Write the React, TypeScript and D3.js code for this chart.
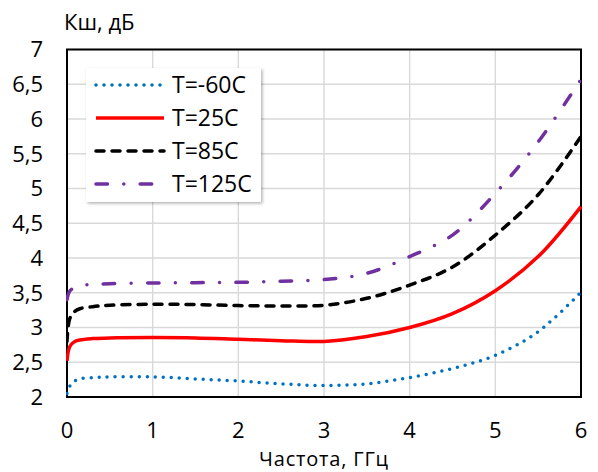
import React from "react";
import * as d3 from "d3";

const freq = [0, 0.03, 0.08, 0.15, 0.3, 0.5, 1, 1.5, 2, 2.5, 3, 3.5, 4, 4.5, 5, 5.5, 6];
const tMinus60 = [2.05, 2.15, 2.22, 2.26, 2.28, 2.29, 2.29, 2.26, 2.23, 2.19, 2.165, 2.19, 2.28, 2.41, 2.6, 2.94, 3.51];
const t25 = [2.52, 2.72, 2.79, 2.82, 2.84, 2.85, 2.855, 2.85, 2.83, 2.81, 2.8, 2.87, 3.0, 3.2, 3.53, 4.02, 4.74];
const t85 = [2.8, 3.12, 3.22, 3.27, 3.3, 3.32, 3.335, 3.33, 3.315, 3.31, 3.32, 3.42, 3.61, 3.87, 4.33, 4.91, 5.75];
const t125 = [3.4, 3.52, 3.57, 3.6, 3.62, 3.63, 3.64, 3.645, 3.65, 3.665, 3.69, 3.78, 4.02, 4.33, 4.93, 5.67, 6.57];

const seriesNames = ["T=-60C", "T=25C", "T=85C", "T=125C"];
const seriesValues = [tMinus60, t25, t85, t125];
const seriesColors = ["#0070C0", "#FF0000", "#000000", "#7030A0"];
const seriesDash = ["0 8", "none", "8 8", "11.5 16.3 0 16.4"];

const xTicks = [0, 1, 2, 3, 4, 5, 6];
const yTicks = [2, 2.5, 3, 3.5, 4, 4.5, 5, 5.5, 6, 6.5, 7];
const yTitle = "Кш, дБ";
const xTitle = "Частота, ГГц";

const W = 598;
const H = 472;
const FONT = "'Open Sans', 'Noto Sans', sans-serif";

export default function App() {
  const x = d3.scaleLinear().domain([0, 6]).range([67, 581]);
  const y = d3.scaleLinear().domain([2, 7]).range([397, 49.5]);
  const fmt = (v: number) => String(v).replace(".", ",");

  const line = (vals: number[]) =>
    d3
      .line<number>()
      .x((_, i) => x(freq[i]))
      .y((v) => y(v))
      .curve(d3.curveCatmullRom.alpha(0.5))(vals) || "";

  const legX = 86, legY = 68, legW = 175, legH = 134;
  const rowY = [85, 118, 151, 184];

  return (
    <svg
      width={W}
      height={H}
      style={{ position: "fixed", left: 0, top: 0, background: "#fff" }}
      fontFamily={FONT}
    >
      <defs>
        <filter id="shadow" x="-10%" y="-10%" width="130%" height="130%">
          <feDropShadow dx="1.5" dy="1.5" stdDeviation="1.5" floodColor="#000" floodOpacity="0.3" />
        </filter>
        <clipPath id="plot">
          <rect x={66} y={48} width={517} height={350} />
        </clipPath>
      </defs>
      <rect x={0} y={0} width={W} height={H} fill="#fff" />
      {xTicks.map((t) => (
        <line key={"gx" + t} x1={x(t)} x2={x(t)} y1={y(2)} y2={y(7)} stroke="#d9d9d9" strokeWidth={1.4} />
      ))}
      {yTicks.map((t) => (
        <line key={"gy" + t} x1={x(0)} x2={x(6)} y1={y(t)} y2={y(t)} stroke="#d9d9d9" strokeWidth={1.4} />
      ))}
      <rect x={x(0)} y={y(7)} width={x(6) - x(0)} height={y(2) - y(7)} fill="none" stroke="#000" strokeWidth={2} />
      <g clipPath="url(#plot)">
        {seriesValues.map((vals, i) => (
          <path
            key={i}
            d={line(vals)}
            fill="none"
            stroke={seriesColors[i]}
            strokeWidth={3.5}
            strokeDasharray={seriesDash[i]}
            strokeLinecap={seriesDash[i] === "none" ? "butt" : "round"}
          />
        ))}
      </g>
      {yTicks.map((t) => (
        <text key={"ty" + t} x={43} y={y(t)} dy="0.36em" textAnchor="end" fontSize={22} fill="#000">
          {fmt(t)}
        </text>
      ))}
      {xTicks.map((t) => (
        <text key={"tx" + t} x={x(t)} y={438} textAnchor="middle" fontSize={22} fill="#000">
          {fmt(t)}
        </text>
      ))}
      <text x={64} y={30} fontSize={22} fill="#000">{yTitle}</text>
      <text x={324} y={466} textAnchor="middle" fontSize={20} letterSpacing={0.8} fill="#000">{xTitle}</text>
      <rect x={legX} y={legY} width={legW} height={legH} fill="#fff" filter="url(#shadow)" />
      {seriesNames.map((n, i) => (
        <g key={n}>
          <line
            x1={96}
            x2={164}
            y1={rowY[i]}
            y2={rowY[i]}
            stroke={seriesColors[i]}
            strokeWidth={3.5}
            strokeDasharray={seriesDash[i]}
            strokeLinecap={seriesDash[i] === "none" ? "butt" : "round"}
          />
          <text x={172} y={rowY[i]} dy="0.36em" fontSize={23} fill="#000">
            {n}
          </text>
        </g>
      ))}
    </svg>
  );
}
